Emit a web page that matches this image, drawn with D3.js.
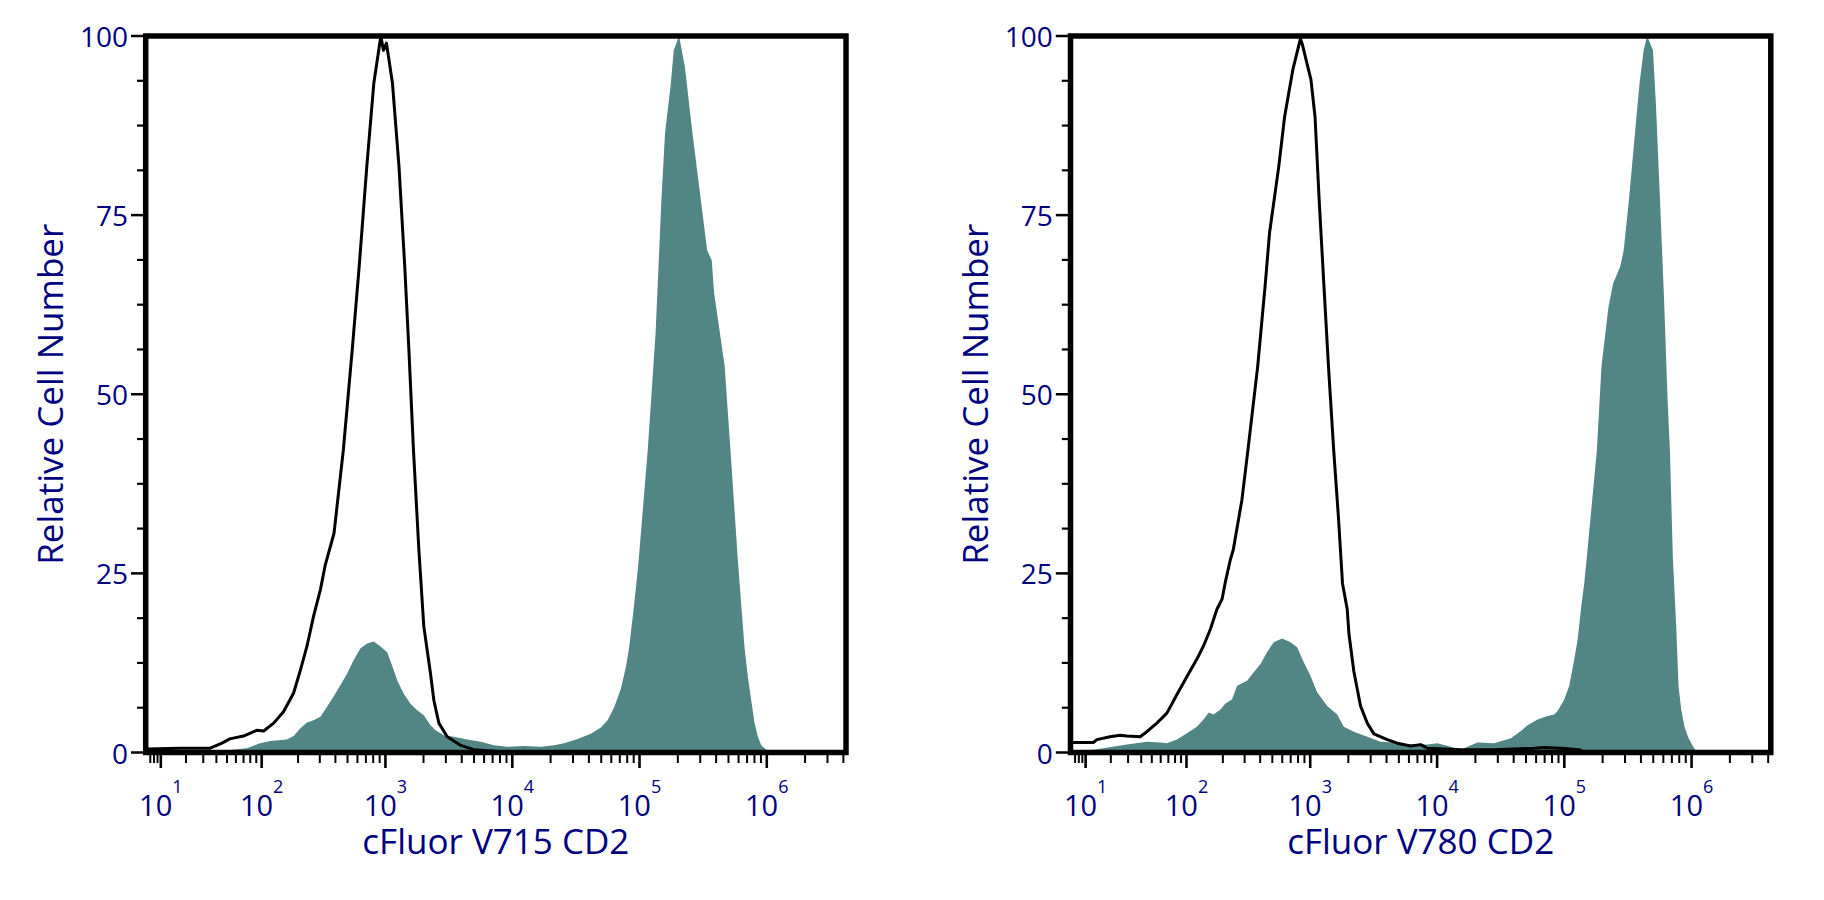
<!DOCTYPE html>
<html><head><meta charset="utf-8">
<script src="https://cdn.jsdelivr.net/npm/d3@7"></script>
<style>
body{margin:0;background:#fff}
svg text{font-family:"Open Sans",sans-serif;fill:#000080}
</style>
</head><body>
<svg id="chart" width="1824" height="900"></svg>
<script>
// ---- data (fluorescence value, relative cell number) ----
const v715ControlX = [6, 17, 35, 45, 53, 70, 91, 104, 126, 152, 184, 209, 236, 267, 303, 332, 390, 463, 545, 619, 712, 809, 920, 964, 1019, 1137, 1280, 1422, 1533, 1666, 1835, 2010, 2271, 2412, 2642, 3078, 3914, 4983, 8100, 4194304];
const v715ControlY = [0.5, 0.6, 0.6, 1.3, 1.9, 2.3, 3.1, 3.0, 4.1, 5.7, 8.3, 11.5, 14.8, 19.0, 22.7, 26.2, 30.6, 42.2, 56.2, 67.8, 81.8, 93.4, 100, 98, 99, 93.4, 81.8, 67.8, 56.2, 42.2, 28.5, 17.6, 11.0, 7.3, 4.1, 2.2, 1.0, 0.4, 0.1, 0];

const v715StainedX = [6, 43, 75, 97, 118, 162, 184, 209, 236, 267, 303, 343, 387, 438, 496, 560, 633, 716, 808, 913, 1032, 1163, 1239, 1397, 1578, 1783, 2010, 2271, 2488, 2893, 3470, 4424, 5633, 7172, 9147, 12360, 16730, 21300, 25540, 32570, 41460, 49670, 56110, 63210, 71390, 78110, 82930, 88250, 93700, 98400, 116000, 133700, 148600, 158600, 176300, 185800, 204500, 227200, 260800, 339900, 369400, 385900, 428700, 466800, 518500, 593000, 629500, 668400, 711000, 754800, 801200, 852100, 904700, 990500, 1050000];
const v715StainedY = [0, 0.2, 0.6, 1.3, 1.6, 1.8, 2.3, 3.4, 4.2, 4.5, 5.0, 6.4, 7.8, 9.4, 11.0, 12.9, 14.5, 15.2, 15.5, 14.8, 14.0, 11.5, 10.1, 8.2, 6.8, 5.9, 5.2, 3.8, 3.1, 2.4, 2.2, 1.8, 1.5, 1.0, 0.8, 0.9, 0.8, 1.0, 1.3, 1.9, 2.6, 3.5, 4.5, 6.3, 8.9, 11.9, 14.7, 18.8, 23, 26.8, 42.2, 58.5, 77.1, 86.4, 93.4, 98.0, 100, 95.7, 86.4, 70.1, 68.7, 64.1, 58.5, 53.9, 42.2, 26.8, 20.7, 14.7, 10.5, 7.3, 4.1, 2.2, 1.0, 0.4, 0];

const v780ControlX = [6, 12.6, 13.9, 19.6, 25, 29.2, 39.1, 45.1, 55.5, 68, 83, 101, 122, 139, 158, 179, 197, 209, 230, 243, 285, 319, 382, 440, 475, 563, 626, 654, 728, 836, 864, 1013, 1092, 1177, 1280, 1394, 1533, 1670, 1799, 1960, 2021, 2211, 2497, 2820, 3180, 4054, 4862, 6193, 7424, 8384, 15330, 28060, 57940, 67990, 94000, 131000, 142300, 4194304];
const v780ControlY = [1.4, 1.4, 1.8, 2.2, 2.4, 2.3, 2.2, 2.9, 4.1, 5.5, 8.1, 10.6, 13.0, 14.9, 17.2, 20.0, 21.4, 23.7, 26.9, 28.3, 35.2, 42.2, 53.9, 65.5, 72.5, 81.8, 88.7, 90.6, 95.3, 99.6, 98.9, 93.9, 88.7, 77.1, 65.5, 53.9, 42.2, 32.9, 23.6, 20.0, 16.6, 11.3, 6.5, 4.1, 2.6, 1.8, 1.3, 0.9, 1.1, 0.6, 0.4, 0.4, 0.6, 0.7, 0.6, 0.4, 0.1, 0];

const v780StainedX = [6, 11.4, 16.5, 29.2, 45.1, 59.4, 68, 83, 101, 122, 139, 153, 168, 191, 209, 237, 261, 314, 355, 401, 454, 513, 598, 697, 787, 889, 1004, 1134, 1362, 1634, 1842, 2211, 2820, 3590, 4572, 6193, 8384, 10050, 12790, 15330, 20770, 28060, 38000, 45550, 51430, 61660, 73910, 83300, 88570, 99860, 109300, 119700, 127300, 135100, 143500, 149800, 180200, 195900, 222400, 242100, 274900, 292900, 321900, 358900, 390100, 420200, 447700, 497400, 524200, 564700, 608200, 648000, 675600, 713400, 757300, 789500, 829100, 880200, 936100, 1006500, 1068600, 1130000];
const v780StainedY = [0.3, 0.3, 0.6, 1.1, 1.5, 1.4, 1.3, 1.8, 2.7, 3.6, 4.6, 5.6, 5.3, 6.0, 6.8, 7.4, 9.3, 10.0, 11.2, 12.3, 14.0, 15.4, 15.9, 15.4, 14.7, 12.6, 10.7, 8.4, 6.5, 5.3, 3.6, 2.9, 2.2, 1.5, 1.4, 1.1, 1.1, 1.3, 0.8, 0.4, 1.4, 1.3, 2.0, 3.0, 3.8, 4.6, 5.1, 5.3, 5.8, 7.4, 9.3, 13.0, 15.8, 20.0, 23.7, 27, 42.2, 53.9, 62.2, 65.5, 67.8, 70.1, 77.1, 86.4, 93.4, 98.0, 100, 98.0, 90.6, 77.1, 63.2, 49.2, 42.2, 27, 17.7, 9.3, 6.0, 3.6, 2.2, 1.1, 0.4, 0];

const panelTitles = ["cFluor V715 CD2", "cFluor V780 CD2"];
const yAxisTitle = "Relative Cell Number";
const yTickValues = [0, 25, 50, 75, 100];
const xTickExponents = [1, 2, 3, 4, 5, 6];
const xDomain = [5.86, 4194304];

// ---- layout ----
const svg = d3.select("#chart");
const W = 700.3, TOP = 36, BOTTOM = 752.5;
const zip = (xs, ys) => xs.map((v, i) => ({x: v, y: ys[i]}));
const panels = [
  {left: 145.7, title: panelTitles[0], control: zip(v715ControlX, v715ControlY), stained: zip(v715StainedX, v715StainedY)},
  {left: 1070.5, title: panelTitles[1], control: zip(v780ControlX, v780ControlY), stained: zip(v780StainedX, v780StainedY)}
];

// minor / major x ticks
const majorX = xTickExponents.map(e => Math.pow(10, e));
const minorX = [7, 8, 9];
for (let e = 1; e <= 6; e++) for (let m = 2; m <= 9; m++) {
  const v = m * Math.pow(10, e);
  if (v <= xDomain[1]) minorX.push(v);
}
const minorY = d3.range(0, 100.001, 6.25).filter(v => v % 25 !== 0);

panels.forEach((p, i) => {
  const x = d3.scaleSymlog().constant(7.3).domain(xDomain).range([p.left, p.left + W]);
  const y = d3.scaleLinear().domain([0, 100]).range([BOTTOM, TOP]);
  const g = svg.append("g");

  const clipId = "clip" + i;
  svg.append("clipPath").attr("id", clipId)
    .append("rect").attr("x", p.left).attr("y", TOP).attr("width", W).attr("height", BOTTOM - TOP);

  const plot = g.append("g").attr("clip-path", `url(#${clipId})`);
  plot.append("path").datum(p.stained)
    .attr("fill", "#518685")
    .attr("d", d3.area().x(d => x(d.x)).y0(y(0)).y1(d => y(d.y)));
  plot.append("path").datum(p.control)
    .attr("fill", "none").attr("stroke", "#000").attr("stroke-width", 3)
    .attr("stroke-linejoin", "round")
    .attr("d", d3.line().x(d => x(d.x)).y(d => y(d.y)));

  // y ticks
  g.selectAll(".ymaj").data(yTickValues).join("line")
    .attr("x1", p.left - 14.7).attr("x2", p.left).attr("y1", d => y(d)).attr("y2", d => y(d))
    .attr("stroke", "#000").attr("stroke-width", 2.5);
  g.selectAll(".ymin").data(minorY).join("line")
    .attr("x1", p.left - 8.7).attr("x2", p.left).attr("y1", d => y(d)).attr("y2", d => y(d))
    .attr("stroke", "#000").attr("stroke-width", 2.2);
  g.selectAll(".ylab").data(yTickValues).join("text")
    .attr("x", p.left - 17.7).attr("y", d => y(d) + 11)
    .attr("text-anchor", "end").attr("font-size", 28).text(d => d);

  // x ticks
  g.selectAll(".xmaj").data(majorX).join("line")
    .attr("x1", d => x(d)).attr("x2", d => x(d)).attr("y1", BOTTOM).attr("y2", BOTTOM + 15.5)
    .attr("stroke", "#000").attr("stroke-width", 2.6);
  g.selectAll(".xmin").data(minorX).join("line")
    .attr("x1", d => x(d)).attr("x2", d => x(d)).attr("y1", BOTTOM).attr("y2", BOTTOM + 10.5)
    .attr("stroke", "#000").attr("stroke-width", 2);
  const xl = g.selectAll(".xlab").data(xTickExponents).join("text")
    .attr("x", e => x(Math.pow(10, e))).attr("y", 816)
    .attr("text-anchor", "middle").attr("font-size", 29);
  xl.append("tspan").text("10");
  xl.append("tspan").attr("dy", -23).attr("font-size", 18).text(e => e);

  // frame
  g.append("rect").attr("x", p.left).attr("y", TOP).attr("width", W).attr("height", BOTTOM - TOP)
    .attr("fill", "none").attr("stroke", "#000").attr("stroke-width", 5.5);

  // titles
  g.append("text").attr("x", p.left + W / 2).attr("y", 854)
    .attr("text-anchor", "middle").attr("font-size", 35).text(p.title);
  g.append("text")
    .attr("transform", `translate(${p.left - 82.7},${(TOP + BOTTOM) / 2}) rotate(-90)`)
    .attr("text-anchor", "middle").attr("font-size", 35).text(yAxisTitle);
});
</script>
</body></html>
